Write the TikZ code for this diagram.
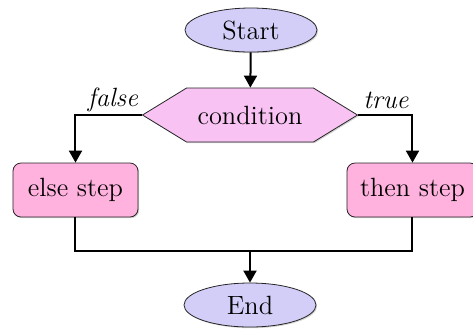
\documentclass[tikz,border=0pt]{standalone}
\usepackage{tikz}
\usetikzlibrary{positioning,shapes.geometric,shapes.symbols,arrows.meta,shadows}

\definecolor{termfill}{HTML}{D2CEF8}
\definecolor{stepfill}{HTML}{FFB2DE}
\definecolor{testfill}{HTML}{F8C2F2}

\begin{document}
\begin{tikzpicture}[x=0.5pt, y=-0.5pt,
        every node/.style={font=\fontsize{13.2}{16}\selectfont, inner sep=0pt},
        terminal/.style={ellipse, draw=black!85, fill=termfill, minimum width=66pt, minimum height=22pt,
            drop shadow={shadow xshift=0.6pt, shadow yshift=-0.6pt, opacity=0.35}},
        stepbox/.style={rectangle, rounded corners=4pt, draw=black!85, fill=stepfill, minimum height=27pt,
            drop shadow={shadow xshift=0.6pt, shadow yshift=-0.6pt, opacity=0.35}},
        test/.style={signal, signal to=west and east, signal pointer angle=63, draw=black!85, fill=testfill,
            minimum width=107.5pt, minimum height=27pt,
            drop shadow={shadow xshift=0.6pt, shadow yshift=-0.6pt, opacity=0.35}},
        flow/.style={line width=1pt, -{Triangle[length=6pt, width=6.5pt]}},
        branch/.style={font=\fontsize{13.2}{16}\selectfont\itshape}]

        \clip (0,0) rectangle (473,329);

        \node   (start)  [terminal] at (251,30)    {Start};
        \node   (cond)   [test]     at (250,115)   {condition};
        \node   (else)   [stepbox, minimum width=62.5pt] at (75.5,190)  {else step};
        \node   (then)   [stepbox, minimum width=65.5pt] at (412.5,190) {then step};
        \node   (end)    [terminal] at (250,305)   {End};

        \node   (no)     [branch] at (113,100) {false};
        \node   (yes)    [branch] at (386,100) {true};

        \coordinate (join) at (250,251);

        \draw[flow] (start) -- (cond);
        \draw[flow] (cond.west) -| (else.north);
        \draw[flow] (cond.east) -| (then.north);
        \draw[line width=1pt] (else.south) |- (join) -| (then.south);
        \draw[flow] (join) -- (end);

    \end{tikzpicture}
\end{document}
